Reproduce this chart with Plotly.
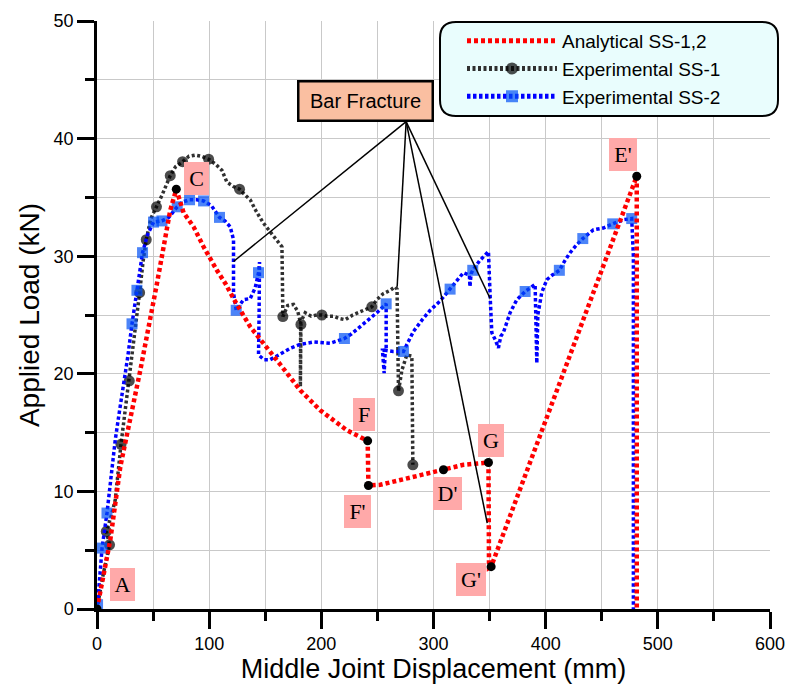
import plotly.graph_objects as go

# ---------------- data ----------------
# Analytical SS-1,2
ana_x = [0, 2.9, 11.9, 20.8, 38.6, 53.5, 65.3, 70.7, 77.2, 86.1, 95, 106.9, 114.3, 121.7,
         130.6, 136.6, 163.3, 181.2, 199, 222.8, 241.3, 242, 252.5, 282.1, 308.9, 326.7,
         349, 349.5, 351.4, 395, 481.2, 481.2]
ana_y = [0, 1.36, 5.9, 12.1, 20.3, 27.7, 33.9, 35.7, 33.7, 32.5, 30.8, 28.8, 27.7, 26.4,
         24.9, 24.0, 20.8, 18.6, 16.9, 15.2, 14.3, 10.5, 10.56, 11.27, 11.84, 12.26,
         12.46, 3.5, 3.6, 14.7, 36.8, 0]

# key points of the analytical curve
key_names = ["A", "C", "F", "F'", "D'", "G", "G'", "E'"]
key_x = [0, 70.7, 241.3, 242, 308.9, 349, 351.4, 481.2]
key_y = [0, 35.7, 14.3, 10.5, 11.84, 12.46, 3.6, 36.8]
# label box centres for the key points
label_x = [22.4, 89.1, 238.4, 232.2, 312.9, 351.5, 333.5, 469.3]
label_y = [2.07, 36.57, 16.56, 8.3, 9.81, 14.36, 2.52, 38.65]
label_w = [25, 25, 22, 27, 29, 26, 30, 28]

# Experimental SS-1
ss1_x = [0, 5, 11.2, 8.3, 13, 16.3, 21.4, 25, 28.8, 33, 36, 38, 41, 43.9, 48, 53, 58, 65.3,
         70, 76.3, 82, 87.6, 93, 99.5, 106, 111.4, 115.8, 122, 127.1, 132, 136.6, 142,
         148.5, 155, 160, 164.9, 165.3, 165.7, 170, 175.2, 179, 181.8, 181.3, 181.6, 185.7,
         191, 196, 200.5, 205, 210.8, 216, 221.3, 228, 234.6, 240, 245, 249.5, 255, 261.4,
         265.8, 267.5, 267.9, 268.8, 271.8, 276.2, 280.7, 281.3, 281.6]
ss1_y = [0, 2.7, 5.46, 6.6, 8.0, 9.3, 14.0, 16.8, 19.4, 22.8, 25.5, 26.9, 29.5, 31.4, 33.2,
         34.2, 35.2, 36.85, 37.6, 38.04, 38.5, 38.6, 38.5, 38.25, 37.8, 37.3, 36.3, 35.9,
         35.7, 35.2, 34.8, 33.8, 32.8, 32.0, 31.4, 30.8, 28.0, 24.87, 25.8, 25.9, 25.3,
         24.2, 18.9, 24.4, 25.2, 24.9, 25.0, 25.0, 24.9, 24.9, 24.7, 24.6, 25.0, 25.3, 25.5,
         25.7, 26.3, 26.8, 27.1, 27.4, 27.2, 22.0, 18.55, 20.3, 21.6, 21.5, 17.0, 12.26]
ss1_marked = [2, 3, 6, 8, 11, 13, 15, 17, 19, 23, 28, 37, 41, 47, 55, 62, 67]

# Experimental SS-2
ss2_x = [0.5, 2, 4.5, 8.9, 12, 16.3, 20, 23.7, 27.5, 31.2, 35.6, 38, 40.6, 45, 50.4, 57.9,
         64, 71.5, 76, 82.5, 89, 95, 102, 109.2, 114, 118.8, 121.7, 121.7, 121.7, 124.1,
         130.6, 136.6, 141, 144, 144.9, 144.5, 144, 149, 154.4, 160, 166.3, 173, 181.2, 193,
         208, 220.6, 227, 234.6, 242, 249.5, 257.8, 257.8, 254.5, 256, 257, 264, 273.2, 277,
         282.1, 290, 297, 306, 314.8, 321, 326.7, 332, 332.5, 333.5, 335, 341, 349, 350.5,
         352, 355, 357.9, 360, 362.3, 368.3, 374.3, 381.7, 387, 390.6, 392.1, 393, 396.5,
         401, 406, 412.2, 417, 421.8, 427, 433.1, 442.5, 451.4, 459.8, 469.3, 476.7, 478.2,
         478.2]
ss2_y = [0.37, 2.5, 5.18, 8.16, 11.0, 14.4, 16.8, 18.9, 21.5, 24.25, 27.1, 28.8, 30.3, 31.8,
         32.9, 33.0, 33.3, 34.2, 34.6, 34.8, 34.8, 34.7, 34.3, 33.3, 33.0, 32.5, 31.4, 29.5,
         26.9, 25.4, 26.3, 26.4, 27.3, 28.6, 29.5, 25.0, 21.6, 21.2, 21.2, 21.5, 21.8, 22.2,
         22.5, 22.7, 22.6, 23.0, 23.4, 24.0, 24.6, 25.2, 25.95, 22.0, 22.0, 20.06, 22.0, 21.9,
         21.9, 22.6, 23.6, 24.6, 25.4, 26.2, 27.2, 28.0, 28.6, 28.4, 27.4, 28.5, 28.8, 29.6,
         30.4, 26.6, 23.5, 22.9, 22.2, 23.2, 23.5, 25.2, 26.3, 27.0, 27.4, 27.6, 20.9, 25.0,
         26.9, 28.0, 28.4, 28.8, 29.6, 30.3, 30.9, 31.5, 32.24, 32.4, 32.75, 33.1, 33.2, 30.0,
         0]
ss2_marked = [0, 2, 3, 9, 10, 12, 14, 15, 17, 19, 21, 23, 29, 33, 45, 50, 56, 62, 68, 79,
              87, 91, 94, 96]

# "Bar Fracture" call-out
fracture_text = "Bar Fracture"
fracture_box = (239.4, 43.17)
fracture_origin = (275.6, 41.44)
fracture_targets_x = [121.7, 267.6, 347.9, 350.5]
fracture_targets_y = [29.55, 27.4, 7.3, 26.4]

x_ticks = [0, 100, 200, 300, 400, 500, 600]
y_ticks = [0, 10, 20, 30, 40, 50]

# ---------------- figure ----------------
FIG_W, FIG_H = 790, 690
M_L, M_R, M_T, M_B = 97, 20, 21, 81
plot_w = FIG_W - M_L - M_R
plot_h = FIG_H - M_T - M_B


def px_to_paper(px, py):
    """reference-picture pixel -> paper coordinates"""
    return (px - M_L) / plot_w, (FIG_H - M_B - py) / plot_h


fig = go.Figure()

ss1_sizes = [11 if i in ss1_marked else 0 for i in range(len(ss1_x))]
ss2_sizes = [11 if i in ss2_marked else 0 for i in range(len(ss2_x))]

fig.add_trace(go.Scatter(
    x=ss1_x, y=ss1_y, mode="lines+markers", name="Experimental SS-1",
    line=dict(color="#303030", width=3.5, dash="3px,2.5px"),
    marker=dict(symbol="circle", size=ss1_sizes, color="black", line=dict(width=0)),
    legendrank=2,
))
fig.add_trace(go.Scatter(
    x=ss2_x, y=ss2_y, mode="lines+markers", name="Experimental SS-2",
    line=dict(color="#0000ff", width=3.5, dash="3.5px,2.5px"),
    marker=dict(symbol="square", size=ss2_sizes, color="#0050f5", line=dict(width=0)),
    legendrank=3,
))
fig.add_trace(go.Scatter(
    x=ana_x, y=ana_y, mode="lines", name="Analytical SS-1,2",
    line=dict(color="#ff0000", width=4.5, dash="4px,3px"),
    legendrank=1,
))
fig.add_trace(go.Scatter(
    x=key_x, y=key_y, mode="markers", showlegend=False, hoverinfo="skip",
    marker=dict(symbol="circle", size=9, color="black"),
))

# key point labels
for name, lx, ly, w in zip(key_names, label_x, label_y, label_w):
    fig.add_annotation(
        x=lx, y=ly, xref="x", yref="y", text=name, showarrow=False,
        font=dict(family="Liberation Serif, Times New Roman, serif", size=22, color="black"),
        bgcolor="#ffa9a9", width=w, height=33, borderpad=0, borderwidth=0,
    )

# Bar Fracture lines
for tx, ty in zip(fracture_targets_x, fracture_targets_y):
    fig.add_shape(type="line", xref="x", yref="y",
                  x0=fracture_origin[0], y0=fracture_origin[1], x1=tx, y1=ty,
                  line=dict(color="black", width=1.5))
fig.add_annotation(
    x=fracture_box[0], y=fracture_box[1], xref="x", yref="y", text=fracture_text,
    showarrow=False, font=dict(family="Arial, Liberation Sans, sans-serif", size=20, color="black"),
    bgcolor="#fabfa1", bordercolor="black", borderwidth=2.5, width=130, height=35, borderpad=1,
)

# rounded legend frame
lx0, ly0 = px_to_paper(440, 116)
lx1, ly1 = px_to_paper(778, 22)
rx, ry = 16 / plot_w, 16 / plot_h
path = (f"M{lx0+rx},{ly0} L{lx1-rx},{ly0} Q{lx1},{ly0} {lx1},{ly0+ry} "
        f"L{lx1},{ly1-ry} Q{lx1},{ly1} {lx1-rx},{ly1} L{lx0+rx},{ly1} "
        f"Q{lx0},{ly1} {lx0},{ly1-ry} L{lx0},{ly0+ry} Q{lx0},{ly0} {lx0+rx},{ly0} Z")
fig.add_shape(type="path", xref="paper", yref="paper", path=path,
              fillcolor="#e9fdfd", line=dict(color="black", width=2), layer="above")

axis_common = dict(
    showline=True, linecolor="black", linewidth=2.5,
    ticks="outside", ticklen=17, tickwidth=2.5, tickcolor="black",
    showgrid=True, gridcolor="#c9c9c9", gridwidth=1, zeroline=False,
    automargin=False,
    tickfont=dict(family="Arial, Liberation Sans, sans-serif", size=18, color="black"),
)

fig.update_xaxes(
    range=[0, 600], tickvals=x_ticks,
    title=dict(text="Middle Joint Displacement (mm)", standoff=6,
               font=dict(family="Arial, Liberation Sans, sans-serif", size=27, color="black")),
    minor=dict(dtick=50, ticks="outside", ticklen=9, tickwidth=2.5, tickcolor="black",
               showgrid=True, gridcolor="#c9c9c9", gridwidth=1),
    **axis_common,
)
fig.update_yaxes(
    range=[0, 50], tickvals=y_ticks,
    title=dict(text="Applied Load (kN)", standoff=6,
               font=dict(family="Arial, Liberation Sans, sans-serif", size=28, color="black")),
    minor=dict(dtick=5, ticks="outside", ticklen=9, tickwidth=2.5, tickcolor="black",
               showgrid=True, gridcolor="#c9c9c9", gridwidth=1),
    **axis_common,
)

leg_x, leg_y = px_to_paper(462, 22)
fig.update_layout(
    width=FIG_W, height=FIG_H,
    margin=dict(l=M_L, r=M_R, t=M_T, b=M_B),
    plot_bgcolor="white", paper_bgcolor="white",
    showlegend=True,
    legend=dict(
        x=leg_x, y=leg_y, xanchor="left", yanchor="top",
        bgcolor="rgba(0,0,0,0)", borderwidth=0, itemsizing="constant", itemwidth=90,
        font=dict(family="Arial, Liberation Sans, sans-serif", size=19, color="black"),
        tracegroupgap=0,
    ),
)

# let the figure fill the page exactly (no default 8px body margin / scrollbars)
fig.write_html("out.html",
               config={"displayModeBar": False},
               post_script="document.body.style.margin='0px';document.body.style.overflow='hidden';")
